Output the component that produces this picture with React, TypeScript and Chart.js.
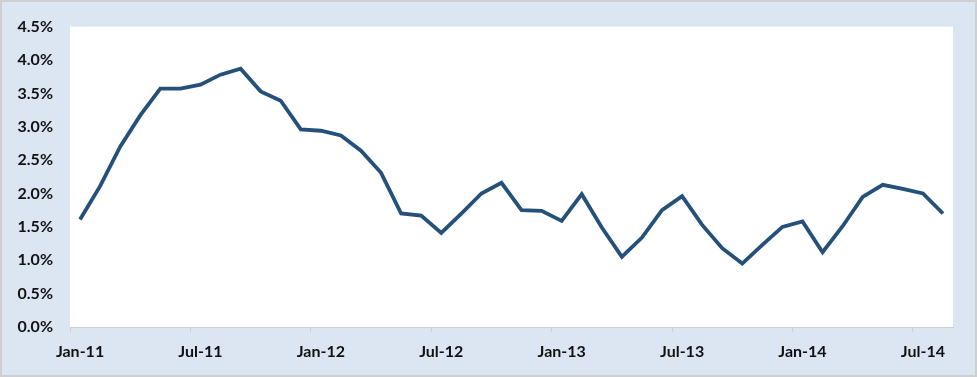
import React, { useEffect, useRef } from "react";
import { Chart, registerables } from "chart.js";

Chart.register(...registerables);

const MONTHS = ["Jan", "Feb", "Mar", "Apr", "May", "Jun", "Jul", "Aug", "Sep", "Oct", "Nov", "Dec"];
const YEARS = ["11", "12", "13", "14"];
const categories: string[] = [];
YEARS.forEach((y) => MONTHS.forEach((m) => categories.push(`${m}-${y}`)));
const labels = categories.slice(0, 44); // Jan-11 .. Aug-14

const values = [
  1.61, 2.11, 2.70, 3.17, 3.57, 3.57, 3.63, 3.78, 3.87, 3.53, 3.39, 2.96,
  2.94, 2.87, 2.64, 2.31, 1.70, 1.67, 1.41, 1.70, 2.00, 2.16, 1.75, 1.74,
  1.59, 1.99, 1.49, 1.05, 1.34, 1.75, 1.96, 1.53, 1.18, 0.95, 1.23, 1.50,
  1.58, 1.12, 1.51, 1.95, 2.13, 2.07, 2.00, 1.70,
];

const yTicks = [0, 0.5, 1, 1.5, 2, 2.5, 3, 3.5, 4, 4.5];

const FONT = { family: "Lato, 'Open Sans', sans-serif", size: 16, weight: "bold" as const };

const bgPlugin = {
  id: "bgPlugin",
  beforeDraw(chart: any) {
    const { ctx, chartArea, width, height } = chart;
    ctx.save();
    ctx.fillStyle = "#DCE6F2";
    ctx.fillRect(0, 0, width, height);
    ctx.strokeStyle = "#CFCFCF";
    ctx.lineWidth = 2;
    ctx.strokeRect(1, 1, width - 2, height - 2);
    ctx.fillStyle = "#FFFFFF";
    ctx.fillRect(chartArea.left, chartArea.top, chartArea.right - chartArea.left, chartArea.bottom - chartArea.top);
    ctx.restore();
  },
};

export default function App() {
  const ref = useRef<HTMLCanvasElement | null>(null);
  useEffect(() => {
    if (!ref.current) return;
    const chart = new Chart(ref.current, {
      type: "line",
      data: {
        labels,
        datasets: [
          {
            data: values,
            borderColor: "#24507A",
            borderWidth: 3.8,
            pointRadius: 0,
            tension: 0,
            fill: false,
          },
        ],
      },
      options: {
        animation: false,
        responsive: false,
        maintainAspectRatio: false,
        layout: { padding: { top: 24, right: 24, left: 0, bottom: 0 } },
        plugins: { legend: { display: false }, tooltip: { enabled: false } },
        scales: {
          x: {
            type: "category",
            offset: true,
            grid: {
              offset: true,
              drawOnChartArea: false,
              drawTicks: true,
              tickLength: 5,
              color: (c: any) => (c.index % 6 === 0 ? "#D0D0D0" : "rgba(0,0,0,0)"),
            },
            border: { display: true, color: "#D0D0D0", width: 1 },
            ticks: {
              autoSkip: false,
              maxRotation: 0,
              minRotation: 0,
              padding: 10,
              color: "#111111",
              font: FONT,
              callback: (_v: any, i: number) => (i % 6 === 0 ? labels[i] : ""),
            },
            afterFit: (s: any) => {
              s.height = 50;
            },
          },
          y: {
            min: 0,
            max: 4.5,
            afterBuildTicks: (s: any) => {
              s.ticks = yTicks.map((v) => ({ value: v }));
            },
            grid: { display: false, drawTicks: false },
            border: { display: false },
            ticks: {
              padding: 17,
              color: "#111111",
              font: FONT,
              callback: (v: any) => Number(v).toFixed(1) + "%",
            },
            afterFit: (s: any) => {
              s.width = 70;
            },
          },
        },
      },
      plugins: [bgPlugin],
    });
    return () => chart.destroy();
  }, []);
  return (
    <div style={{ position: "fixed", left: 0, top: 0, width: 977, height: 377 }}>
      <canvas ref={ref} width={977} height={377} style={{ width: 977, height: 377, display: "block" }} />
    </div>
  );
}
